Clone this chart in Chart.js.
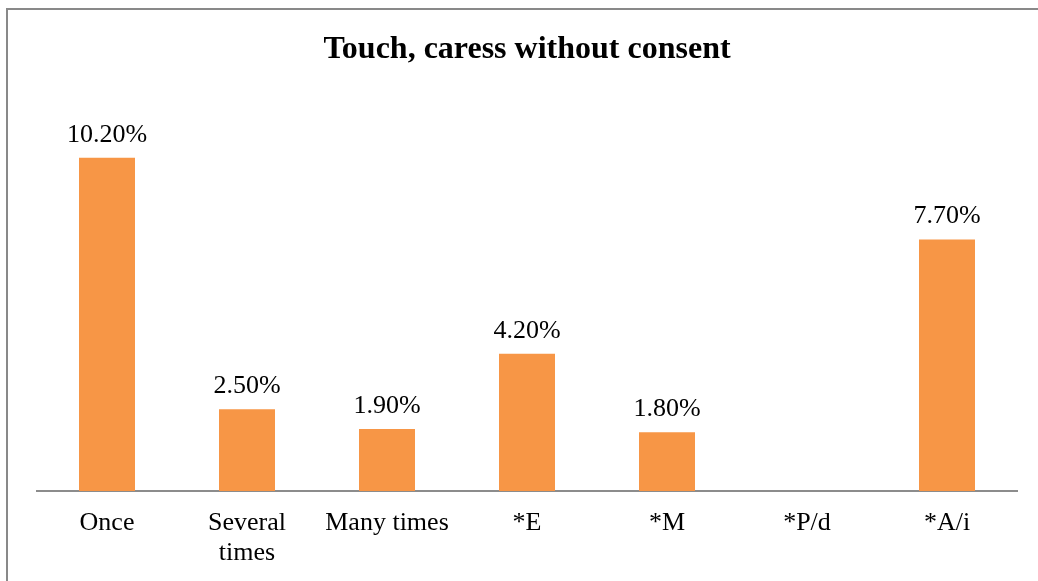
<!DOCTYPE html>
<html>
<head>
<meta charset="utf-8">
<script src="https://cdn.jsdelivr.net/npm/chart.js@4.4.1/dist/chart.umd.min.js"></script>
<style>
  html, body { margin: 0; padding: 0; background: #fff; overflow: hidden; }
  #frame {
    position: absolute; left: 6px; top: 8px; width: 1100px; height: 700px;
    border-left: 2px solid #898989; border-top: 2px solid #898989;
  }
  #wrap { position: absolute; left: 0; top: 0; width: 1038px; height: 581px; }
</style>
</head>
<body>
<div id="frame"></div>
<div id="wrap"><canvas id="barChart"></canvas></div>
<script>
// Chart data
const categories = ['Once', ['Several', 'times'], 'Many times', '*E', '*M', '*P/d', '*A/i']
const values = [10.2, 2.5, 1.9, 4.2, 1.8, 0, 7.7]

const barColor = '#F79646'
const fontFamily = '"Liberation Serif", "Times New Roman", serif'

// Draw value labels above each bar
const valueLabels = {
  id: 'valueLabels',
  afterDatasetsDraw(chart) {
    const ctx = chart.ctx
    const meta = chart.getDatasetMeta(0)
    ctx.save()
    ctx.font = '26px ' + fontFamily
    ctx.fillStyle = '#000'
    ctx.textAlign = 'center'
    ctx.textBaseline = 'alphabetic'
    meta.data.forEach((bar, i) => {
      const v = values[i]
      if (!v) return
      ctx.fillText(v.toFixed(2) + '%', bar.x, bar.y - 16)
    })
    ctx.restore()
  }
}

new Chart(document.getElementById('barChart'), {
  type: 'bar',
  data: {
    labels: categories,
    datasets: [{
      data: values,
      backgroundColor: barColor,
      borderWidth: 0,
      categoryPercentage: 1,
      barPercentage: 0.4
    }]
  },
  options: {
    responsive: true,
    maintainAspectRatio: false,
    animation: false,
    layout: { padding: { left: 37, right: 21, top: 0, bottom: 0 } },
    plugins: {
      legend: { display: false },
      tooltip: { enabled: false },
      title: {
        display: true,
        text: 'Touch, caress without consent',
        color: '#000',
        font: { family: fontFamily, size: 32, weight: 'bold', lineHeight: 1.2 },
        padding: { top: 31, bottom: 29.6 }
      }
    },
    scales: {
      x: {
        grid: { display: false, drawTicks: false },
        border: { display: true, color: '#8c8c8c', width: 2 },
        ticks: {
          color: '#000',
          padding: 17,
          maxRotation: 0,
          autoSkip: false,
          font: { family: fontFamily, size: 26, lineHeight: 1.15 }
        },
        afterFit(scale) { scale.height = 90 }
      },
      y: {
        display: false,
        min: 0,
        max: 12
      }
    }
  },
  plugins: [valueLabels]
})
</script>
</body>
</html>
